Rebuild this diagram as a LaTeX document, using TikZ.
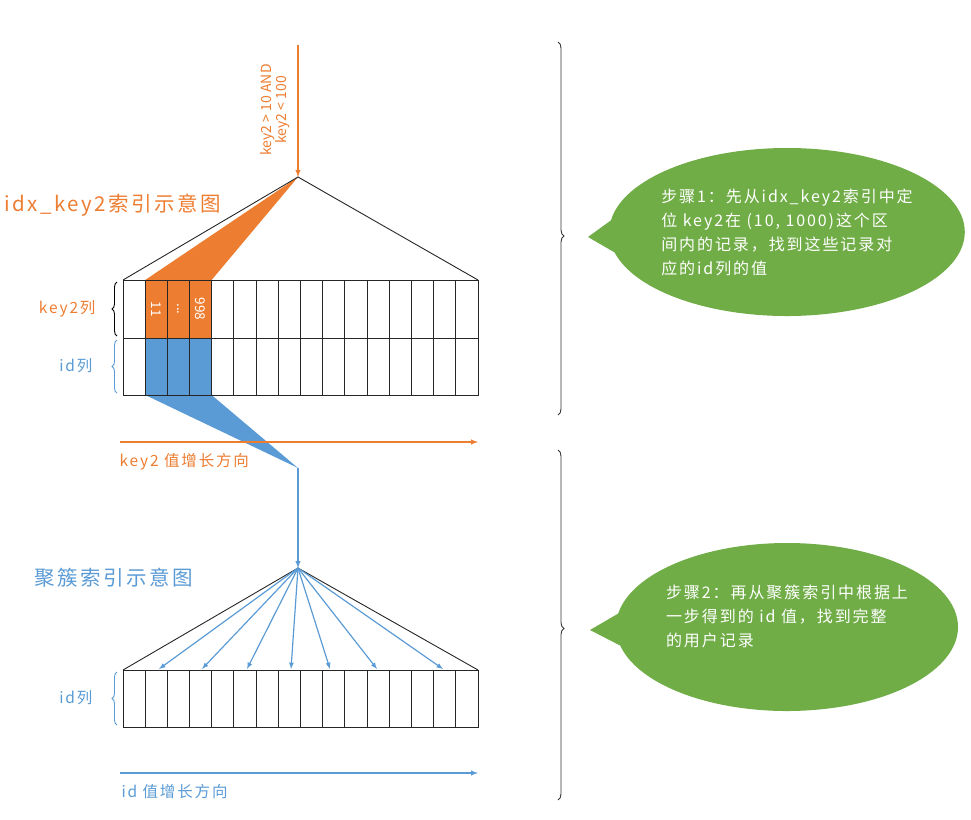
\documentclass[tikz,border=0pt]{standalone}
\usepackage{fontspec}
\setmainfont{Noto Sans CJK SC}
\newfontfamily\spacedcjk[LetterSpace=12]{Noto Sans CJK SC}
\usetikzlibrary{shapes.callouts,decorations.pathreplacing,positioning,calc}
\definecolor{korange}{HTML}{ED7D31}
\definecolor{kblue}{HTML}{5B9BD5}
\definecolor{kgreen}{HTML}{70AD47}

\begin{document}
\begin{tikzpicture}[x=1pt, y=-1pt,
    cellline/.style={draw=black!85, line width=0.9pt},
    tree/.style={draw=black!85, line width=0.9pt},
    oarrow/.style={->, >=latex, korange, line width=1.4pt},
    barrow/.style={->, >=latex, kblue, line width=1.4pt},
    title/.style={font=\spacedcjk\fontsize{20.5}{22}\selectfont},
    small/.style={font=\spacedcjk\fontsize{15.5}{17}\selectfont},
    celltext/.style={text=white, rotate=-90, font=\fontsize{13.5}{15}\selectfont},
    leftbrace/.style={decorate, decoration={brace, amplitude=5pt}, line width=0.9pt},
    rightbrace/.style={decorate, decoration={brace, amplitude=6pt, aspect=#1}, draw=black!80, line width=0.9pt},
    stepcallout/.style={ellipse callout, fill=kgreen, text=white, minimum width=340pt, minimum height=168pt,
        align=left, inner sep=0pt, callout pointer arc=22,
        font=\spacedcjk\fontsize{16}{24}\selectfont}
]
\useasboundingbox (0,0) rectangle (971,819);

% secondary index
\coordinate (qstart) at (298,45);
\coordinate (apexA) at (298,177);
\coordinate (baseAl) at (123,280);
\coordinate (baseAr) at (478,280);
\node[korange, rotate=90, align=center, font=\fontsize{14}{15.5}\selectfont] (query) at (275,110) {key2 > 10 AND\\key2 < 100};
\draw[oarrow] (qstart) -- (apexA);
\node[korange, title, anchor=west] (titleA) at (1,205) {idx\_key2索引示意图};

\fill[korange] (apexA) -- (145.2,280) -- (211.6,280) -- cycle;
\draw[tree] (baseAl) -- (apexA) -- (baseAr);
\fill[korange] (145.2,280) rectangle (211.6,338);
\fill[kblue] (145.2,338) rectangle (211.6,395);
\fill[kblue] (145.2,395) -- (211.6,395) -- (298,468) -- cycle;
\foreach \i in {0,...,16}
    \draw[cellline] (123+\i*22.1875,280) -- (123+\i*22.1875,395);
\draw[cellline] (123,280) rectangle (478,395);
\draw[cellline] (123,338) -- (478,338);
\node[celltext] (v11) at (156.3,309) {11};
\node[celltext] (vdots) at (178.4,309) {...};
\node[celltext] (v998) at (200.5,309) {998};

\draw[leftbrace] (117,336) -- (117,282);
\node[korange, small, anchor=east] (key2col) at (99,309) {key2列};
\draw[leftbrace, kblue] (117,393) -- (117,340);
\node[kblue, small, anchor=east] (idcolA) at (96,366) {id列};

\coordinate (dirAs) at (120,442);
\coordinate (dirAe) at (478,442);
\draw[oarrow] (dirAs) -- (dirAe);
\node[korange, small, anchor=west] (dirAlabel) at (116,462) {key2 值增长方向};

% clustered index
\coordinate (fanB) at (298,468);
\coordinate (apexB) at (298,568);
\coordinate (baseBl) at (123,670);
\coordinate (baseBr) at (478,670);
\draw[barrow] (fanB) -- (apexB);
\node[kblue, title, anchor=west] (titleB) at (31,578) {聚簇索引示意图};

\draw[tree] (baseBl) -- (apexB) -- (baseBr);
\foreach \i in {0,...,16}
    \draw[cellline] (123+\i*22.1875,670) -- (123+\i*22.1875,727);
\draw[cellline] (123,670) rectangle (478,727);
\foreach \t [count=\k] in {159,202,247,291,330,377,443} {
    \coordinate (leaf\k) at (\t,669);
    \draw[barrow, line width=1.2pt] (apexB) -- (leaf\k);
}

\draw[leftbrace, kblue] (117,725) -- (117,672);
\node[kblue, small, anchor=east] (idcolB) at (96,698) {id列};

\coordinate (dirBs) at (120,773);
\coordinate (dirBe) at (478,773);
\draw[barrow] (dirBs) -- (dirBe);
\node[kblue, small, anchor=west] (dirBlabel) at (118,792) {id 值增长方向};

% steps
\draw[rightbrace=0.52] (558,42) -- (558,415);
\draw[rightbrace=0.51] (558,450) -- (558,800);
\coordinate (tipA) at (588,237);
\coordinate (tipB) at (590,630);
\node[stepcallout, callout absolute pointer={(tipA)}] (step1) at (787,232)
    {步骤1：先从idx\_key2索引中定\\位 key2在 (10, 1000)这个区\\间内的记录，找到这些记录对\\应的id列的值};
\node[stepcallout, callout absolute pointer={(tipB)}] (step2) at (787,627)
    {步骤2：再从聚簇索引中根据上\\一步得到的 id 值，找到完整\\的用户记录\\[-2pt]\phantom{x}};
\end{tikzpicture}
\end{document}
